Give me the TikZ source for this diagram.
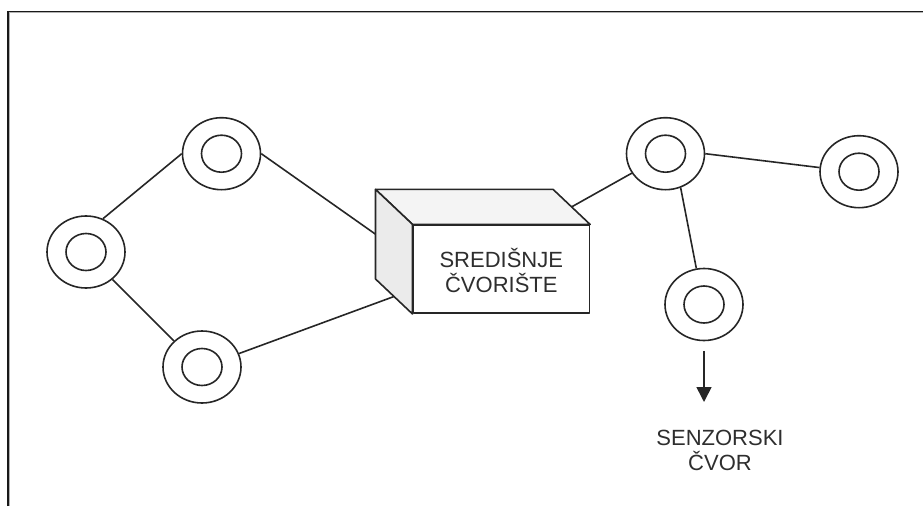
\documentclass[tikz,border=0pt]{standalone}
\usepackage{fontspec}
\setmainfont{Liberation Sans}
\usetikzlibrary{shapes.geometric,arrows.meta,calc}
\begin{document}
\begin{tikzpicture}[x=1pt,y=-1pt,
  ring/.style={ellipse,draw=black!85,line width=1.6pt,fill=white,inner sep=0pt,minimum width=78pt,minimum height=72pt},
  core/.style={ellipse,draw=black!85,line width=1.6pt,inner sep=0pt,minimum width=40pt,minimum height=37pt},
  link/.style={draw=black!85,line width=1.6pt},
  face/.style={draw=black!85,line width=1.6pt,line join=round},
  lbl/.style={font=\fontsize{22}{25}\selectfont,text=black!82,align=center,inner sep=0pt}]
\useasboundingbox (0,0) rectangle (923,506);
% frame
\draw[black!90,line width=1.7pt] (8.2,506) -- (8.2,11.7) -- (923,11.7);
\draw[black!30,line width=1pt] (9.6,506) -- (9.6,12.9) -- (923,12.9);
% central hub (cube)
\node[face,fill=white,minimum width=176pt,minimum height=88pt,inner sep=0pt] (box) at (501.3,269.2) {};
\coordinate (bnw) at ([shift={(-37,-35)}]box.north west);
\coordinate (bne) at ([shift={(-37,-35)}]box.north east);
\coordinate (bsw) at ([shift={(-37,-35)}]box.south west);
\filldraw[face,fill=gray!9] (box.north west) -- (bnw) -- (bne) -- (box.north east) -- cycle;
\filldraw[face,fill=gray!16] (box.north west) -- (bnw) -- (bsw) -- (box.south west) -- cycle;
\node[lbl] (boxtext) at ([yshift=-1.5]box.center) {SREDIŠNJE\\ČVORIŠTE};
% sensor nodes
\node[ring] (a) at (221.5,153.7) {};
\node[ring] (b) at (86,252) {};
\node[ring] (c) at (202,367) {};
\node[ring] (d) at (665.5,153.7) {};
\node[ring] (e) at (859,171.7) {};
\node[ring] (f) at (704,304.5) {};
\node[core] (ai) at (a) {};
\node[core] (bi) at (b) {};
\node[core] (ci) at (c) {};
\node[core] (di) at (d) {};
\node[core] (ei) at (e) {};
\node[core] (fi) at (f) {};
% links
\draw[link] (b.63) -- (a.west);
\draw[link] (b.-46) -- (c.137);
\draw[link] (a.east) -- ([shift={(-37,-35)}]box.west);
\draw[link] (c.20) -- ($(box.south west)!0.5!(bsw)$);
\draw[link] ($(box.north east)!0.5!(bne)$) -- (d.210);
\draw[link] (d.east) -- (e.174);
\draw[link] (d.-66) -- (f.102);
% label and arrow
\node[lbl,anchor=north] (sl) at (720,430) {SENZORSKI\\ČVOR};
\coordinate (tip) at (704,402);
\draw[link,-{Triangle[width=15pt,length=15pt]}] ([yshift=-9.5pt]f.south) -- (tip);
\end{tikzpicture}
\end{document}
